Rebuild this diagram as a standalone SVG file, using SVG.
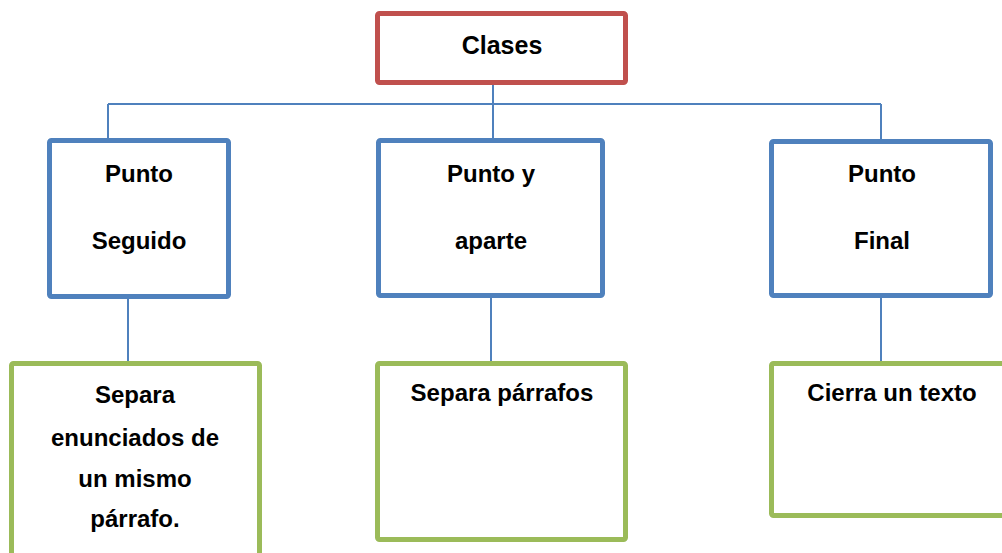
<svg xmlns="http://www.w3.org/2000/svg" width="1002" height="553" viewBox="0 0 1002 553">
<style>
.bx{fill:#fff;stroke-width:5;stroke-linejoin:round}
.red{stroke:#C0504D}
.blue{stroke:#4F81BD}
.green{stroke:#9BBB59}
.t{font-family:"Liberation Sans",Arial,sans-serif;font-weight:bold;font-size:24px;fill:#000;text-anchor:middle}
.ln{stroke:#4F81BD;stroke-width:2;fill:none}
</style>
<rect width="1002" height="553" fill="#fff"/>
<g id="connectors">
<path class="ln" d="M108,104 H881 M493,85 V138 M108,104 V138 M881,104 V139 M128,299 V361 M491,298 V361 M881,298 V361"/>
</g>
<g id="clases">
<rect class="bx red" x="377.5" y="13.5" width="248" height="69" rx="2"/>
<text class="t" x="502" y="54" style="font-size:25px">Clases</text>
</g>
<g id="punto-seguido">
<rect class="bx blue" x="49.5" y="140.5" width="179" height="156" rx="2"/>
<text class="t" x="139" y="182">Punto</text>
<text class="t" x="139" y="249">Seguido</text>
</g>
<g id="punto-aparte">
<rect class="bx blue" x="378.5" y="140.5" width="224" height="155" rx="2"/>
<text class="t" x="491" y="182">Punto y</text>
<text class="t" x="491" y="249">aparte</text>
</g>
<g id="punto-final">
<rect class="bx blue" x="771.5" y="141.5" width="219" height="154" rx="2"/>
<text class="t" x="882" y="182">Punto</text>
<text class="t" x="882" y="249">Final</text>
</g>
<g id="desc-seguido">
<rect class="bx green" x="11.5" y="363.5" width="248" height="200" rx="2"/>
<text class="t" x="135" y="403">Separa</text>
<text class="t" x="135" y="446">enunciados de</text>
<text class="t" x="135" y="487">un mismo</text>
<text class="t" x="135" y="527">párrafo.</text>
</g>
<g id="desc-aparte">
<rect class="bx green" x="377.5" y="363.5" width="248" height="176" rx="2"/>
<text class="t" x="502" y="401">Separa párrafos</text>
</g>
<g id="desc-final">
<rect class="bx green" x="771.5" y="363.5" width="250" height="152" rx="2"/>
<text class="t" x="892" y="401">Cierra un texto</text>
</g>
</svg>
